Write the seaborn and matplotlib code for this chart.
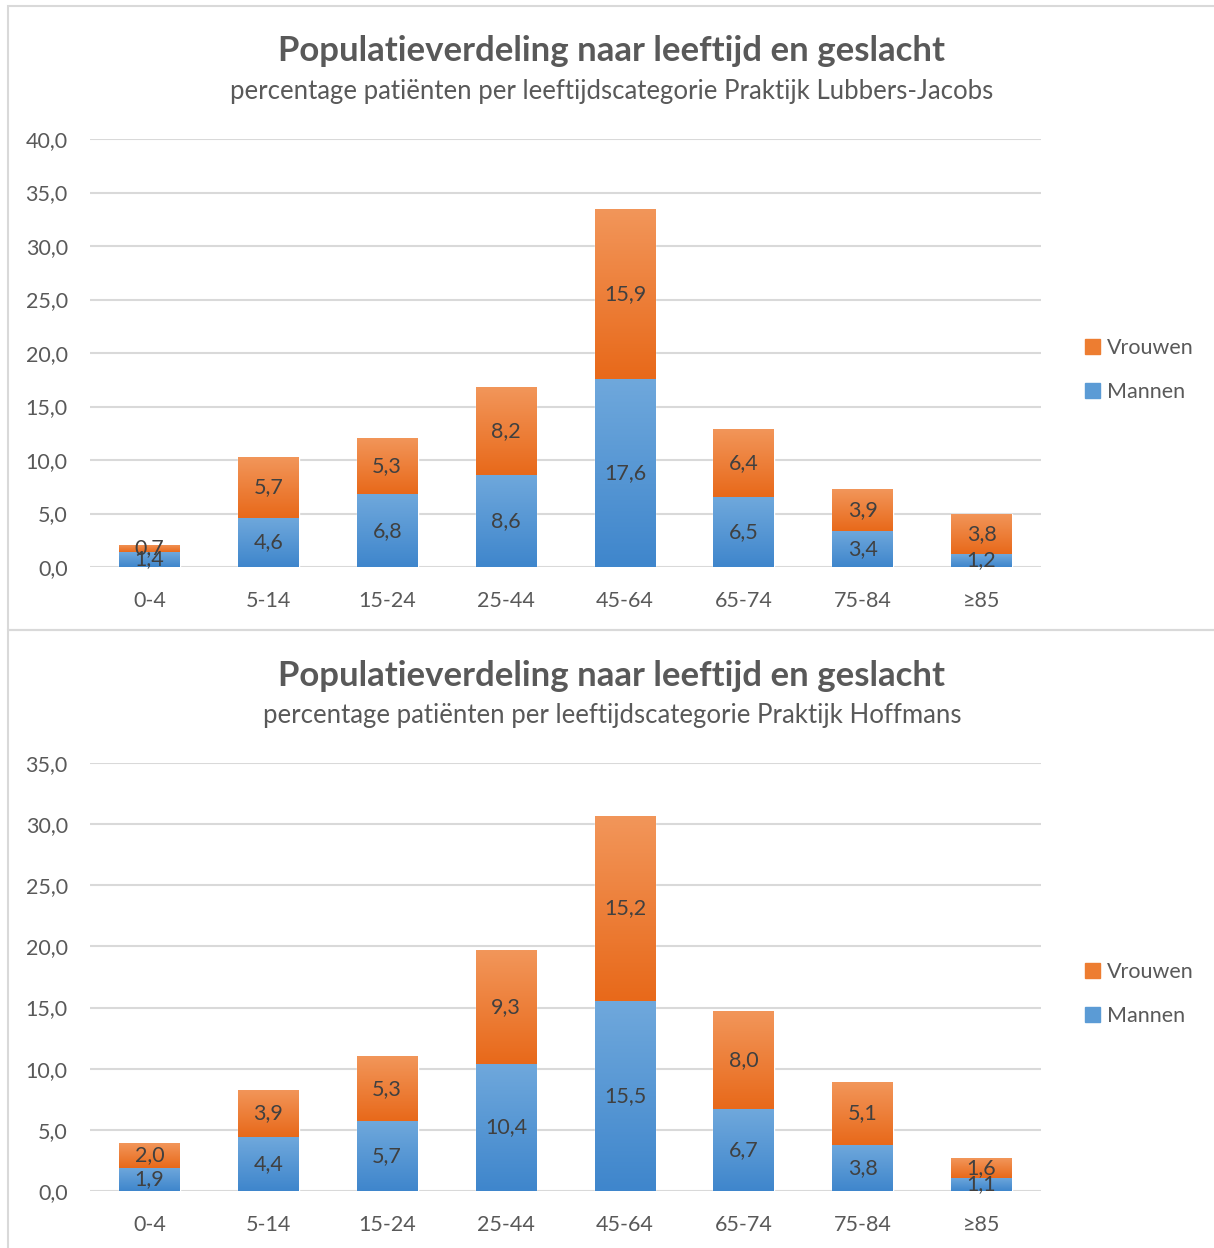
import numpy as np
import pandas as pd
import matplotlib
matplotlib.use("Agg")
import matplotlib.pyplot as plt
import seaborn as sns
from matplotlib.patches import Rectangle
from matplotlib.colors import LinearSegmentedColormap

# data
categories = ["0-4", "5-14", "15-24", "25-44", "45-64", "65-74", "75-84", "≥85"]
mannen_lj = [1.4, 4.6, 6.8, 8.6, 17.6, 6.5, 3.4, 1.2]
vrouwen_lj = [0.7, 5.7, 5.3, 8.2, 15.9, 6.4, 3.9, 3.8]
mannen_hf = [1.9, 4.4, 5.7, 10.4, 15.5, 6.7, 3.8, 1.1]
vrouwen_hf = [2.0, 3.9, 5.3, 9.3, 15.2, 8.0, 5.1, 1.6]
title = "Populatieverdeling naar leeftijd en geslacht"
sub_lj = "percentage patiënten per leeftijdscategorie Praktijk Lubbers-Jacobs"
sub_hf = "percentage patiënten per leeftijdscategorie Praktijk Hoffmans"

sns.set_theme(style="white")
plt.rcParams["font.family"] = ["Lato", "DejaVu Sans"]

W, H = 1214, 1248
fig = plt.figure(figsize=(W / 100, H / 100), dpi=100)

grey = "#595959"
blue_cm = LinearSegmentedColormap.from_list("b", ["#3F86CC", "#6FA8DC"])
orange_cm = LinearSegmentedColormap.from_list("o", ["#E8691A", "#F2965A"])


def fy(py):
    return 1 - py / H


def gradient_fill(ax, patches, cmap):
    grad = np.linspace(0, 1, 100).reshape(-1, 1)
    for p in patches:
        x, y = p.get_x(), p.get_y()
        w, h = p.get_width(), p.get_height()
        im = ax.imshow(grad, cmap=cmap, origin="lower", aspect="auto",
                       extent=(x, x + w, y, y + h), zorder=3)
        im.set_clip_path(p)
        p.set_facecolor("none")


def draw_panel(ax, men, women, ymax, step):
    df = pd.DataFrame({"cat": categories, "Mannen": men, "Vrouwen": women})
    sns.barplot(data=df, x="cat", y="Mannen", color="#5B9BD5", width=0.51,
                ax=ax, zorder=2, label="Mannen")
    n0 = len(ax.patches)
    sns.barplot(data=df, x="cat", y="Vrouwen", color="#ED7D31", width=0.51,
                bottom=df["Mannen"], ax=ax, zorder=2, label="Vrouwen")
    men_p = ax.patches[:n0]
    women_p = ax.patches[n0:]
    gradient_fill(ax, men_p, blue_cm)
    gradient_fill(ax, women_p, orange_cm)
    for i, (m, w) in enumerate(zip(men, women)):
        ax.text(i, m / 2, f"{m:.1f}".replace(".", ","), ha="center", va="center",
                fontsize=15.5, color="#404040", zorder=5)
        ax.text(i, m + w / 2, f"{w:.1f}".replace(".", ","), ha="center",
                va="center", fontsize=15.5, color="#404040", zorder=5)
    ax.set_xlim(-0.5, len(categories) - 0.5)
    ax.set_ylim(0, ymax)
    ticks = np.arange(0, ymax + 0.01, step)
    ax.set_yticks(ticks)
    ax.set_yticklabels([f"{t:.1f}".replace(".", ",") for t in ticks])
    ax.yaxis.grid(True, color="#D9D9D9", lw=1.5, zorder=0)
    ax.set_axisbelow(True)
    for s in ax.spines.values():
        s.set_visible(False)
    ax.tick_params(axis="y", length=0, pad=16, labelsize=15.5, labelcolor=grey)
    ax.tick_params(axis="x", length=0, pad=17, labelsize=15.5, labelcolor=grey)
    ax.set_xlabel("")
    ax.set_ylabel("")
    handles = [Rectangle((0, 0), 1, 1, color="#ED7D31"),
               Rectangle((0, 0), 1, 1, color="#5B9BD5")]
    ax.legend(handles, ["Vrouwen", "Mannen"], loc="center left",
              bbox_to_anchor=(1.026, 0.46), frameon=False, fontsize=15.5,
              labelcolor=grey, handlelength=0.7, handleheight=0.7,
              handletextpad=0.3, labelspacing=1.15)


ax1 = fig.add_axes([90 / W, fy(567), 951 / W, (567 - 139) / H])
draw_panel(ax1, mannen_lj, vrouwen_lj, 40, 5)
ax2 = fig.add_axes([90 / W, fy(1191), 951 / W, (1191 - 763) / H])
draw_panel(ax2, mannen_hf, vrouwen_hf, 35, 5)

# titles
for ty, sy, sub in [(51, 92, sub_lj), (676, 716, sub_hf)]:
    fig.text(612 / W, fy(ty), title, ha="center", va="center", fontsize=25,
             fontweight="bold", color=grey)
    fig.text(612 / W, fy(sy), sub, ha="center", va="center", fontsize=18.5,
             color=grey)

# panel borders
fig.add_artist(Rectangle((8 / W, fy(630)), 1.1, (630 - 6) / H,
                         transform=fig.transFigure, fill=False,
                         ec="#D9D9D9", lw=1.5))
fig.add_artist(Rectangle((8 / W, fy(1260)), 1.1, (1260 - 630) / H,
                         transform=fig.transFigure, fill=False,
                         ec="#D9D9D9", lw=1.5))

fig.savefig("out.png", dpi=100)
